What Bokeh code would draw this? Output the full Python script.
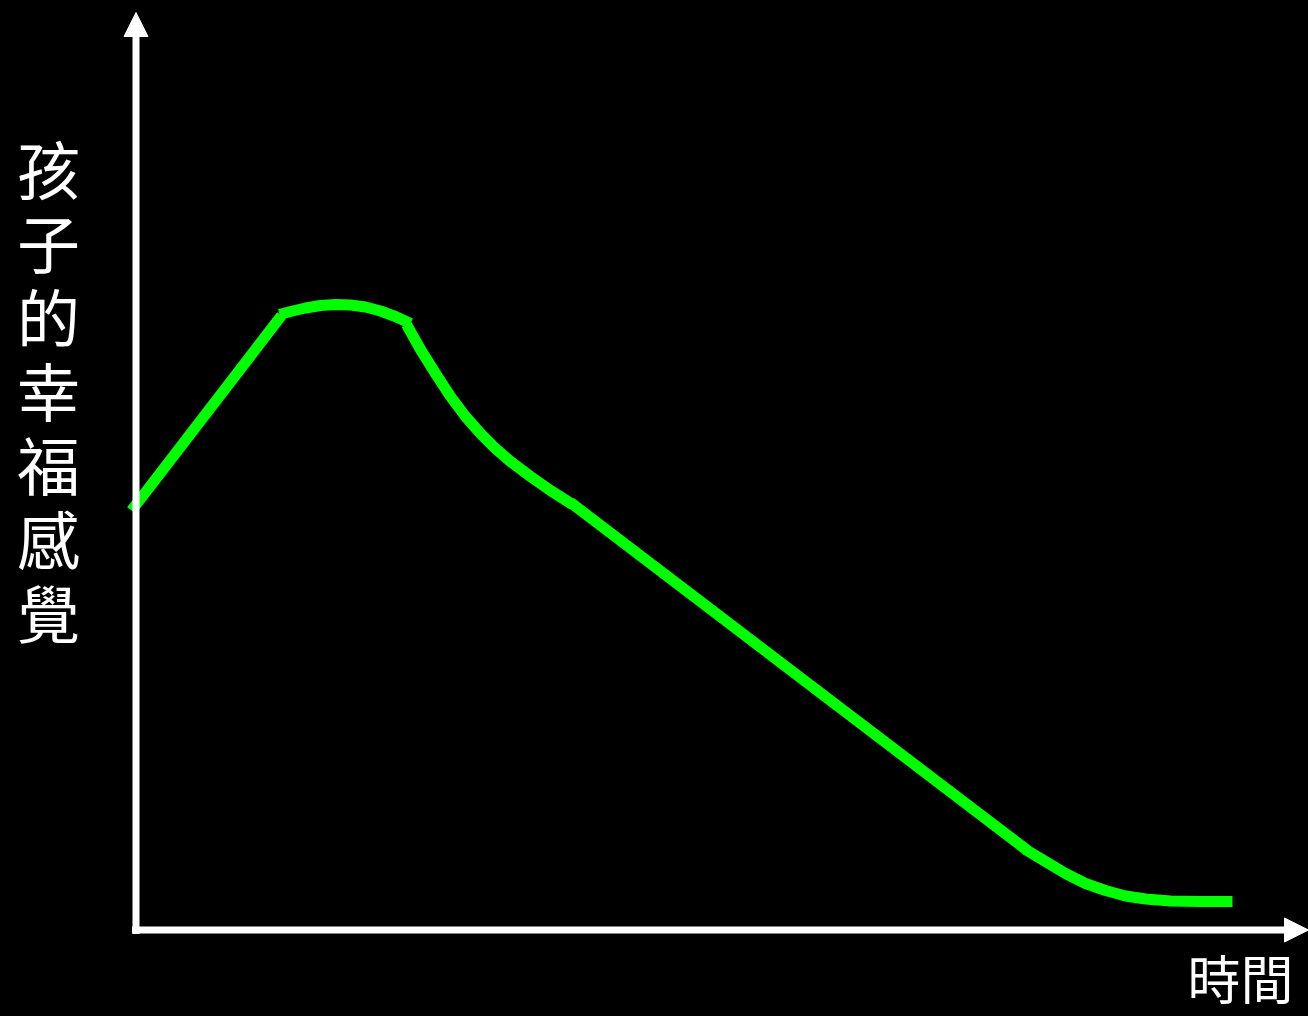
from bokeh.plotting import figure
from bokeh.models import Range1d, Arrow, NormalHead
from bokeh.core.properties import value
from bokeh.embed import file_html
from bokeh.resources import INLINE

# Happiness curve, drawn as five pieces (time, happiness)
seg1_x = [-0.4, 14.6]
seg1_y = [42.0, 61.5]
seg2_x = [14.4, 15.5, 17.0, 18.5, 20.0, 21.5, 23.0, 24.5, 26.0, 27.5]
seg2_y = [61.6, 61.9, 62.25, 62.5, 62.6, 62.55, 62.35, 61.95, 61.4, 60.7]
seg3_x = [27.1, 28.5, 30.0, 31.5, 33.0, 34.5, 36.0, 37.5, 39.5, 41.5, 43.7]
seg3_y = [60.6, 58.1, 55.7, 53.4, 51.4, 49.7, 48.2, 46.9, 45.4, 44.0, 42.6]
seg4_x = [43.5, 89.2]
seg4_y = [42.8, 8.0]
seg5_x = [89.0, 91.0, 93.0, 95.0, 97.0, 99.0, 101.0, 103.5, 106.5, 109.7]
seg5_y = [8.1, 6.9, 5.7, 4.7, 4.0, 3.45, 3.15, 2.95, 2.9, 2.9]

y_label_chars = ["孩", "子", "的", "幸", "福", "感", "覺"]
x_label = "時間"

W, H = 1308, 1016
p = figure(width=W, height=H, output_backend="svg", toolbar_location=None,
           x_range=Range1d(-13.5, 117.3), y_range=Range1d(-8.6, 93.0),
           x_axis_type=None, y_axis_type=None, min_border=0,
           background_fill_color="black", border_fill_color="black")
p.outline_line_color = None
p.grid.visible = False

green = "#00FF00"
p.multi_line(xs=[seg1_x, seg2_x, seg3_x, seg4_x, seg5_x],
             ys=[seg1_y, seg2_y, seg3_y, seg4_y, seg5_y],
             line_color=green, line_width=11, line_cap="butt", line_join="round")

# Axes with arrow heads
p.add_layout(Arrow(end=NormalHead(size=24, fill_color="white", line_color="white", line_width=1),
                   x_start=0.05, y_start=-0.35, x_end=0.05, y_end=91.8,
                   line_color="white", line_width=7))
p.add_layout(Arrow(end=NormalHead(size=24, fill_color="white", line_color="white", line_width=1),
                   x_start=-0.35, y_start=0.05, x_end=117.3, y_end=0.05,
                   line_color="white", line_width=7))

# Vertical y label, one character per row
n = len(y_label_chars)
ys = [76.4 - 7.4 * i for i in range(n)]
p.text(x=[-8.7] * n, y=ys, text=y_label_chars, text_color="white",
       text_font=value("Noto Sans CJK TC"), text_font_size="63px",
       text_align="center", text_baseline="middle")

p.text(x=[110.5], y=[-4.6], text=[x_label], text_color="white",
       text_font=value("Noto Sans CJK TC"), text_font_size="53px",
       text_align="center", text_baseline="middle")

html = file_html(p, INLINE)
html = html.replace("</head>",
                    "<style>html,body{margin:0;padding:0;background:#000;overflow:hidden}</style></head>", 1)
open("out.html", "w").write(html)
